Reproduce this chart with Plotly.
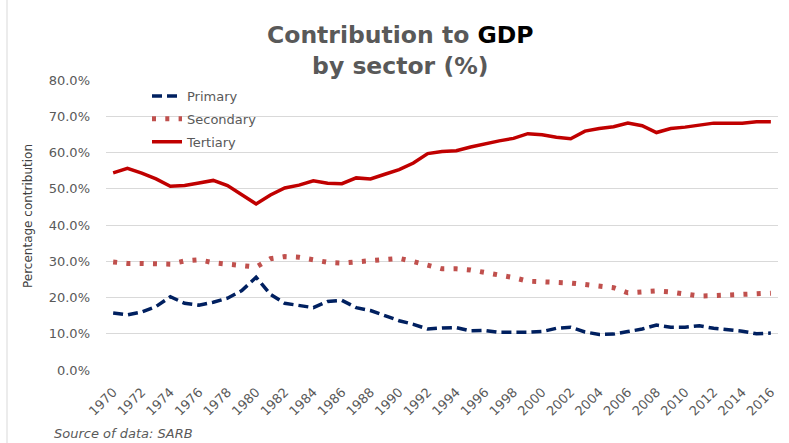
import plotly.graph_objects as go

years = list(range(1970, 2017))

primary = [15.7, 15.2, 16.0, 17.5, 20.2, 18.4, 17.9, 18.7, 19.8, 21.9,
           25.6, 20.9, 18.4, 17.7, 17.2, 18.9, 19.2, 17.2, 16.4, 15.0,
           13.6, 12.6, 11.3, 11.6, 11.7, 10.8, 10.9, 10.4, 10.3, 10.4,
           10.6, 11.5, 11.8, 10.5, 9.8, 9.9, 10.6, 11.3, 12.4, 11.8,
           11.8, 12.2, 11.5, 11.2, 10.7, 10.0, 10.2]

secondary = [29.8, 29.4, 29.4, 29.4, 29.2, 30.1, 30.4, 29.6, 29.2, 29.1,
             28.4, 30.7, 31.3, 31.1, 30.5, 29.7, 29.5, 29.8, 30.4, 30.7,
             30.8, 29.9, 28.9, 27.9, 27.9, 27.6, 26.9, 26.3, 25.5, 24.5,
             24.4, 24.2, 24.0, 23.6, 23.3, 22.7, 21.3, 21.5, 21.8, 21.5,
             20.9, 20.4, 20.5, 20.7, 21.1, 21.2, 21.2]

tertiary = [54.4, 55.6, 54.3, 52.7, 50.7, 50.9, 51.6, 52.3, 50.9, 48.4,
            45.8, 48.3, 50.2, 51.0, 52.2, 51.5, 51.4, 53.0, 52.7, 54.0,
            55.3, 57.1, 59.7, 60.3, 60.5, 61.5, 62.4, 63.2, 63.9, 65.2,
            64.9, 64.2, 63.8, 65.9, 66.6, 67.1, 68.1, 67.4, 65.5, 66.6,
            67.0, 67.6, 68.1, 68.1, 68.1, 68.5, 68.5]

series_names = ["Primary", "Secondary", "Tertiary"]
tick_years = list(range(1970, 2017, 2))

FONT = "DejaVu Sans, Verdana, sans-serif"
GRAY = "#595959"

fig = go.Figure()
fig.add_trace(go.Scatter(x=years, y=[v / 100 for v in primary], name=series_names[0],
                         mode="lines", legendgroup="a",
                         line=dict(color="#002060", width=3.5, dash="10px,5px")))
fig.add_trace(go.Scatter(x=years, y=[v / 100 for v in secondary], name=series_names[1],
                         mode="lines", legendgroup="b",
                         line=dict(color="#C0504D", width=5, dash="4px,9.3px")))
fig.add_trace(go.Scatter(x=years, y=[v / 100 for v in tertiary], name=series_names[2],
                         mode="lines", legendgroup="c",
                         line=dict(color="#C00000", width=3.5)))

L, R, T, B = 106, 11, 80, 73
W, H = 789, 443
pw, ph = W - L - R, H - T - B

def px_x(x):
    return (x - L) / pw

def px_y(y):
    return (H - B - y) / ph

fig.update_layout(
    width=W, height=H,
    margin=dict(l=L, r=R, t=T, b=B),
    paper_bgcolor="white", plot_bgcolor="white",
    font=dict(family=FONT, color=GRAY, size=13),
    showlegend=True,
    legend=dict(
        x=px_x(147), y=px_y(81), xanchor="left", yanchor="top",
        bgcolor="rgba(255,255,255,0)",
        font=dict(family=FONT, size=13, color=GRAY),
        tracegroupgap=3,
        traceorder="grouped",
    ),
    xaxis=dict(
        range=[1969.5, 2016.5],
        tickmode="array", tickvals=tick_years, ticktext=[str(y) for y in tick_years],
        tickangle=-45, showgrid=False, zeroline=False, showline=False,
        ticks="", ticklabelstandoff=11,
        tickfont=dict(family=FONT, size=13, color=GRAY),
    ),
    yaxis=dict(
        range=[0, 0.8], dtick=0.1, tickformat=".1%",
        showgrid=True, gridcolor="#D9D9D9", gridwidth=1,
        zeroline=False, showline=False, ticks="",
        ticklabelstandoff=15,
        tickfont=dict(family=FONT, size=13, color=GRAY),
    ),
    annotations=[
        dict(text="<b>Contribution to <span style='color:#000000'>GDP</span><br>by sector (%)</b>",
             xref="paper", yref="paper", x=px_x(400), y=px_y(50),
             xanchor="center", yanchor="middle", showarrow=False, align="center",
             font=dict(family=FONT, size=23.5, color=GRAY)),
        dict(text="Percentage contribution", xref="paper", yref="paper",
             x=px_x(28), y=px_y(216), textangle=-90, showarrow=False,
             xanchor="center", yanchor="middle",
             font=dict(family=FONT, size=12, color="#404040")),
        dict(text="<i>Source of data: SARB</i>", xref="paper", yref="paper",
             x=px_x(52), y=px_y(433), xanchor="left", yanchor="middle", showarrow=False,
             font=dict(family=FONT, size=13, color=GRAY)),
    ],
    shapes=[
        dict(type="line", xref="paper", yref="paper",
             x0=px_x(7), x1=px_x(7), y0=px_y(0), y1=px_y(443),
             line=dict(color="#D9D9D9", width=1)),
    ],
)

fig.write_html("out.html")
